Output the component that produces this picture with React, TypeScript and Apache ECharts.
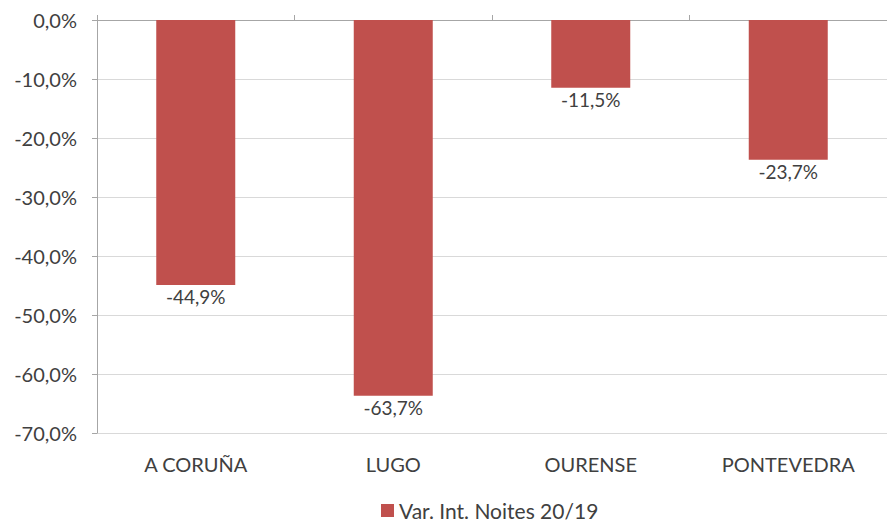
import React, { useEffect, useRef } from "react";
import * as echarts from "echarts";

const categories = ["A CORUÑA", "LUGO", "OURENSE", "PONTEVEDRA"];
const values = [-44.9, -63.7, -11.5, -23.7];
const seriesName = "Var. Int. Noites 20/19";

const fmt = (v: number) => v.toFixed(1).replace(".", ",") + "%";

export default function App() {
  const ref = useRef<HTMLDivElement>(null);
  useEffect(() => {
    const chart = echarts.init(ref.current!, null, { renderer: "svg" });
    const font = "Lato, 'Open Sans', sans-serif";
    const fs = 20;
    chart.setOption({
      animation: false,
      textStyle: { fontFamily: font },
      grid: { left: 97, right: -10, top: 20, bottom: 95, containLabel: false },
      legend: {
        bottom: 2,
        left: 376,
        itemWidth: 13,
        itemHeight: 13,
        itemGap: 5,
        icon: "rect",
        textStyle: { fontSize: 21, color: "#404040", fontFamily: font },
        data: [seriesName],
      },
      xAxis: [
        {
          type: "category",
          data: categories,
          position: "top",
          axisLine: { onZero: false, lineStyle: { color: "#a6a6a6", width: 1 } },
          axisTick: { show: true, length: 5, alignWithLabel: false, lineStyle: { color: "#a6a6a6" } },
          axisLabel: { show: false },
        },
        {
          type: "category",
          data: categories,
          position: "bottom",
          axisLine: { show: false },
          axisTick: { show: false },
          axisLabel: { show: true, fontSize: fs, color: "#404040", margin: 21, fontFamily: font },
        },
      ],
      yAxis: {
        type: "value",
        min: -70,
        max: 0,
        interval: 10,
        axisLine: { show: true, lineStyle: { color: "#a6a6a6" } },
        axisTick: { show: true, length: 5, lineStyle: { color: "#a6a6a6" } },
        axisLabel: { fontSize: fs, color: "#404040", margin: 20, formatter: (v: number) => fmt(v), fontFamily: font },
        splitLine: { show: true, lineStyle: { color: "#d9d9d9" } },
      },
      series: [
        {
          name: seriesName,
          type: "bar",
          xAxisIndex: 0,
          data: values,
          barWidth: "40%",
          itemStyle: { color: "#c0504d" },
          label: {
            show: true,
            position: "bottom",
            distance: 2,
            fontSize: 19,
            color: "#404040",
            fontFamily: font,
            formatter: (p: any) => fmt(p.value),
          },
        },
      ],
    });
    return () => chart.dispose();
  }, []);
  return <div ref={ref} style={{ width: 887, height: 528, position: "absolute", left: 0, top: 0 }} />;
}
